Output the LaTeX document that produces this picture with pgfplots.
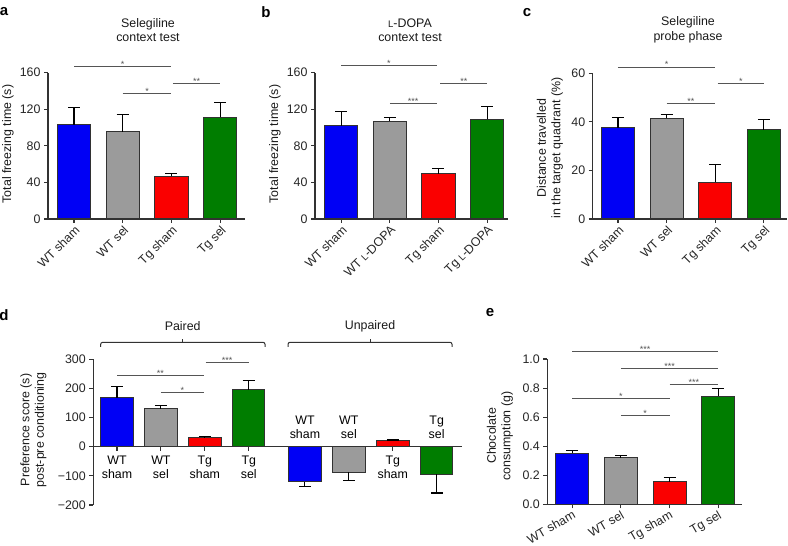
\documentclass[border=0pt]{standalone}
\usepackage{fontspec}
\setmainfont{Liberation Sans}
\usepackage{pgfplots}
\pgfplotsset{compat=1.18}

\definecolor{barblue}{RGB}{0,0,245}
\definecolor{bargray}{RGB}{155,155,155}
\definecolor{barred}{RGB}{250,0,0}
\definecolor{bargreen}{RGB}{0,125,0}
\definecolor{axgray}{RGB}{50,50,50}
\definecolor{siggray}{RGB}{85,85,85}

\newcommand{\fs}{\fontsize{12.4}{14.5}\selectfont}
\newcommand{\sm}{\fontsize{9}{10}\selectfont}
\newcommand{\scL}{{\fontsize{9.5}{10}\selectfont L}}

\tikzset{
  sig/.style={siggray, line width=0.9pt},
  star/.style={midway, anchor=base, yshift=-1pt, font=\sm, inner sep=0pt},
  catdn/.style={anchor=north, align=center, inner sep=0pt},
  catup/.style={anchor=south, align=center, inner sep=0pt},
}
\pgfplotsset{
  panel/.style={
    scale only axis, anchor=south west,
    axis x line*=bottom, axis y line*=left,
    axis line style={axgray, line width=1.2pt},
    tick style={axgray, line width=1.1pt},
    major tick length=4pt, tick align=outside,
    tick label style={font=\fs, text=black!85},
    /pgf/number format/assume math mode=true,
    clip=false,
    every axis plot/.append style={ybar, draw=axgray, line width=1pt,
      error bars/y dir=plus, error bars/y explicit,
      error bars/error bar style={black, line width=1.1pt},
      error bars/error mark options={black, line width=1.1pt, mark size=6pt, rotate=90}},
  },
}

\begin{document}
\begin{tikzpicture}[font=\fs]
\useasboundingbox (0pt,0pt) rectangle (788pt,546pt);

% ---- a ----
\begin{axis}[panel, at={(48pt,327pt)}, width=197pt, height=146.3pt,
  xmin=-0.534, xmax=3.51, ymin=0, ymax=160, ytick={0,40,80,120,160},
  xtick={0,1,2,3}, xticklabels={WT sham, WT sel, Tg sham, Tg sel},
  xticklabel style={rotate=45, anchor=north east, inner sep=1pt}, bar width=0.68]
\addplot[fill=barblue] coordinates {(0,103) +- (0,19)};
\addplot[fill=bargray] coordinates {(1,95.5) +- (0,18.5)};
\addplot[fill=barred] coordinates {(2,46.5) +- (0,3.5)};
\addplot[fill=bargreen] coordinates {(3,111) +- (0,16.5)};
\draw[sig] (axis cs:0,167) -- (axis cs:2,167) node[star]{*};
\draw[sig] (axis cs:1,137) -- (axis cs:2,137) node[star]{*};
\draw[sig] (axis cs:2.03,148.5) -- (axis cs:3,148.5) node[star]{**};
\end{axis}

% ---- b ----
\begin{axis}[panel, at={(315pt,327pt)}, width=193pt, height=146.3pt,
  xmin=-0.54, xmax=3.43, ymin=0, ymax=160, ytick={0,40,80,120,160},
  xtick={0,1,2,3}, xticklabels={WT sham, WT \scL-DOPA, Tg sham, Tg \scL-DOPA},
  xticklabel style={rotate=45, anchor=north east, inner sep=1pt}, bar width=0.68]
\addplot[fill=barblue] coordinates {(0,102) +- (0,16)};
\addplot[fill=bargray] coordinates {(1,107) +- (0,4)};
\addplot[fill=barred] coordinates {(2,49.5) +- (0,6)};
\addplot[fill=bargreen] coordinates {(3,109) +- (0,14)};
\draw[sig] (axis cs:0,167.4) -- (axis cs:1.96,167.4) node[star]{*};
\draw[sig] (axis cs:1,126.6) -- (axis cs:1.96,126.6) node[star]{***};
\draw[sig] (axis cs:2.04,148.5) -- (axis cs:3,148.5) node[star]{**};
\end{axis}

% ---- c ----
\begin{axis}[panel, at={(592.7pt,327pt)}, width=194pt, height=145.7pt,
  xmin=-0.52, xmax=3.47, ymin=0, ymax=60, ytick={0,20,40,60},
  xtick={0,1,2,3}, xticklabels={WT sham, WT sel, Tg sham, Tg sel},
  xticklabel style={rotate=45, anchor=north east, inner sep=1pt}, bar width=0.68]
\addplot[fill=barblue] coordinates {(0,37.5) +- (0,4.3)};
\addplot[fill=bargray] coordinates {(1,41.4) +- (0,1.8)};
\addplot[fill=barred] coordinates {(2,15.1) +- (0,7.2)};
\addplot[fill=bargreen] coordinates {(3,36.7) +- (0,4.3)};
\draw[sig] (axis cs:0,62.6) -- (axis cs:2,62.6) node[star]{*};
\draw[sig] (axis cs:1,47.5) -- (axis cs:2,47.5) node[star]{**};
\draw[sig] (axis cs:2.05,55.8) -- (axis cs:3,55.8) node[star]{*};
\end{axis}

% ---- d ----
\begin{axis}[panel, at={(93.3pt,41pt)}, width=368.4pt, height=145.7pt,
  axis x line*=middle,
  xmin=-0.54, xmax=7.85, ymin=-200, ymax=300, ytick={-200,-100,0,100,200,300},
  yticklabels={−200,−100,0,100,200,300},
  xtick={0,1,2,3,4.28,5.28,6.28,7.28}, xticklabels={}, bar width=0.74]
\addplot[fill=barblue] coordinates {(0,168) +- (0,40)};
\addplot[fill=bargray] coordinates {(1,130) +- (0,12)};
\addplot[fill=barred] coordinates {(2,31) +- (0,4)};
\addplot[fill=bargreen] coordinates {(3,195) +- (0,32)};
\addplot[fill=barblue, error bars/y dir=minus] coordinates {(4.28,-121) +- (0,16)};
\addplot[fill=bargray, error bars/y dir=minus] coordinates {(5.28,-88) +- (0,27)};
\addplot[fill=barred] coordinates {(6.28,20) +- (0,3)};
\addplot[fill=bargreen, error bars/y dir=minus] coordinates {(7.28,-95) +- (0,64)};
\draw[sig] (axis cs:0,246) -- (axis cs:1.98,246) node[star]{**};
\draw[sig] (axis cs:1,185) -- (axis cs:1.98,185) node[star]{*};
\draw[sig] (axis cs:2.02,290) -- (axis cs:3,290) node[star]{***};
\node[catdn] at (axis cs:0,-31) {WT\\sham};
\node[catdn] at (axis cs:1,-31) {WT\\sel};
\node[catdn] at (axis cs:2,-31) {Tg\\sham};
\node[catdn] at (axis cs:3,-31) {Tg\\sel};
\node[catdn] at (axis cs:6.28,-31) {Tg\\sham};
\node[catup] at (axis cs:4.28,27) {WT\\sham};
\node[catup] at (axis cs:5.28,27) {WT\\sel};
\node[catup] at (axis cs:7.28,27) {Tg\\sel};
\end{axis}

% ---- e ----
\begin{axis}[panel, at={(547.3pt,41.7pt)}, width=194.4pt, height=145.3pt,
  xmin=-0.51, xmax=3.48, ymin=0, ymax=1, ytick={0,0.2,0.4,0.6,0.8,1.0},
  yticklabel style={/pgf/number format/.cd, fixed, fixed zerofill, precision=1},
  xtick={0,1,2,3}, xticklabels={WT sham, WT sel, Tg sham, Tg sel},
  xticklabel style={rotate=30, anchor=north east, inner sep=1pt}, bar width=0.68]
\addplot[fill=barblue] coordinates {(0,0.351) +- (0,0.021)};
\addplot[fill=bargray] coordinates {(1,0.319) +- (0,0.016)};
\addplot[fill=barred] coordinates {(2,0.156) +- (0,0.027)};
\addplot[fill=bargreen] coordinates {(3,0.743) +- (0,0.051)};
\draw[sig] (axis cs:0,1.05) -- (axis cs:3,1.05) node[star]{***};
\draw[sig] (axis cs:1,0.933) -- (axis cs:3,0.933) node[star]{***};
\draw[sig] (axis cs:2,0.826) -- (axis cs:3,0.826) node[star]{***};
\draw[sig] (axis cs:0,0.729) -- (axis cs:2,0.729) node[star]{*};
\draw[sig] (axis cs:1,0.612) -- (axis cs:2,0.612) node[star]{*};
\end{axis}

% titles, labels, panel letters
\node[align=center, text=black!90] at (148pt,516pt) {Selegiline\\context test};
\node[align=center, text=black!90] at (410pt,516pt) {\scL-DOPA\\context test};
\node[align=center, text=black!90] at (688pt,516pt) {Selegiline\\probe phase};
\node[rotate=90, text=black!90] at (8pt,402pt) {Total freezing time (s)};
\node[rotate=90, text=black!90] at (275pt,402pt) {Total freezing time (s)};
\node[rotate=90, align=center, text=black!90] at (550pt,398pt) {Distance travelled\\in the target quadrant (\%)};
\node[rotate=90, align=center, text=black!90] at (33.5pt,116pt) {Preference score (s)\\post-pre conditioning};
\node[rotate=90, align=center, text=black!90] at (500pt,110pt) {Chocolate\\consumption (g)};
\node[text=black!90] at (182.7pt,220pt) {Paired};
\node[text=black!90] at (370pt,220pt) {Unpaired};
\draw[axgray, line width=1pt, rounded corners=2pt] (100.7pt,199pt) -- (100.7pt,203.7pt) -- (265pt,203.7pt) -- (265pt,199pt);
\draw[axgray, line width=1pt] (182.7pt,203.7pt) -- (182.7pt,206.5pt);
\draw[axgray, line width=1pt, rounded corners=2pt] (288pt,199pt) -- (288pt,203.7pt) -- (452pt,203.7pt) -- (452pt,199pt);
\draw[axgray, line width=1pt] (370pt,203.7pt) -- (370pt,206.5pt);
\node[font=\fontsize{15}{16}\selectfont\bfseries] at (4pt,534pt) {a};
\node[font=\fontsize{15}{16}\selectfont\bfseries] at (266pt,534pt) {b};
\node[font=\fontsize{15}{16}\selectfont\bfseries] at (527pt,533pt) {c};
\node[font=\fontsize{15}{16}\selectfont\bfseries] at (4pt,231pt) {d};
\node[font=\fontsize{15}{16}\selectfont\bfseries] at (490pt,233pt) {e};
\end{tikzpicture}
\end{document}
